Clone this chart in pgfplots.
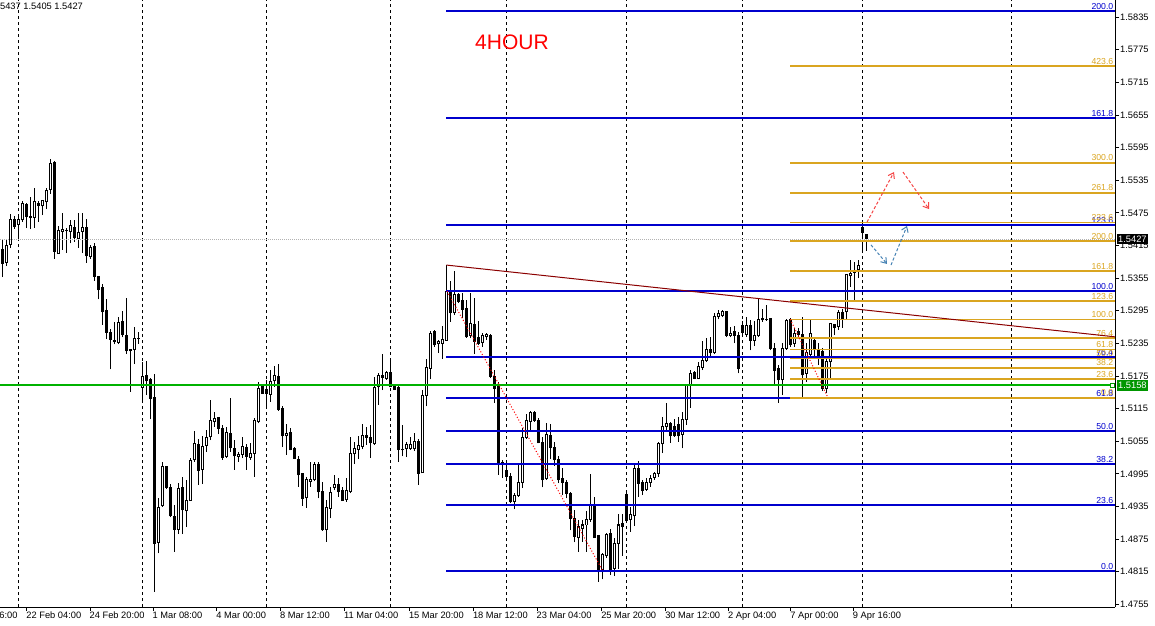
\documentclass[border=0pt]{standalone}
\usepackage{fontspec}
\setmainfont{Liberation Sans}
\usepackage{pgfplots}
\pgfplotsset{compat=1.18}
\usepackage{pgfplotstable}
\usetikzlibrary{arrows.meta}
\definecolor{fibblue}{RGB}{0,0,205}
\definecolor{fibgold}{RGB}{218,165,32}
\definecolor{trendred}{RGB}{139,0,0}
\definecolor{mtgreen}{RGB}{0,150,0}
\definecolor{arrowblue}{RGB}{70,130,180}
\definecolor{arrowred}{RGB}{245,70,70}

\pgfplotstableread{
o h l c
1.5408 1.5425 1.5357 1.5382
1.5384 1.5425 1.5377 1.5415
1.5417 1.5473 1.5410 1.5462
1.5463 1.5470 1.5446 1.5450
1.5454 1.5467 1.5426 1.5463
1.5462 1.5496 1.5459 1.5493
1.5491 1.5494 1.5447 1.5468
1.5469 1.5504 1.5445 1.5466
1.5466 1.5521 1.5448 1.5495
1.5493 1.5497 1.5459 1.5489
1.5488 1.5499 1.5471 1.5497
1.5495 1.5521 1.5482 1.5517
1.5518 1.5574 1.5510 1.5565
1.5567 1.5571 1.5391 1.5404
1.5400 1.5451 1.5400 1.5442
1.5441 1.5474 1.5407 1.5444
1.5443 1.5447 1.5402 1.5443
1.5441 1.5462 1.5419 1.5451
1.5448 1.5462 1.5422 1.5429
1.5427 1.5474 1.5411 1.5439
1.5441 1.5474 1.5401 1.5448
1.5448 1.5464 1.5383 1.5396
1.5394 1.5416 1.5391 1.5412
1.5414 1.5419 1.5350 1.5358
1.5358 1.5359 1.5316 1.5334
1.5337 1.5344 1.5269 1.5293
1.5296 1.5317 1.5243 1.5255
1.5255 1.5261 1.5187 1.5243
1.5241 1.5275 1.5233 1.5238
1.5237 1.5283 1.5233 1.5274
1.5276 1.5294 1.5246 1.5252
1.5250 1.5319 1.5215 1.5221
1.5223 1.5224 1.5146 1.5221
1.5224 1.5266 1.5197 1.5244
1.5244 1.5255 1.5234 1.5244
1.5154 1.5201 1.5128 1.5174
1.5176 1.5203 1.5140 1.5166
1.5168 1.5171 1.5095 1.5134
1.5136 1.5179 1.4778 1.4867
1.4869 1.4950 1.4849 1.4934
1.4936 1.5016 1.4935 1.5008
1.5008 1.5010 1.4968 1.4970
1.4970 1.4976 1.4915 1.4918
1.4916 1.4938 1.4852 1.4893
1.4893 1.4978 1.4884 1.4968
1.4970 1.4989 1.4884 1.4929
1.4927 1.4984 1.4897 1.4946
1.4946 1.5024 1.4946 1.5019
1.5021 1.5074 1.5017 1.5050
1.5049 1.5059 1.4975 1.5002
1.5003 1.5065 1.4976 1.5046
1.5048 1.5076 1.5035 1.5062
1.5063 1.5131 1.5057 1.5094
1.5091 1.5108 1.5082 1.5097
1.5099 1.5099 1.5068 1.5079
1.5079 1.5085 1.5021 1.5025
1.5027 1.5082 1.5024 1.5072
1.5070 1.5134 1.5036 1.5043
1.5042 1.5057 1.5003 1.5028
1.5027 1.5036 1.5017 1.5031
1.5031 1.5063 1.5024 1.5045
1.5044 1.5050 1.5003 1.5027
1.5025 1.5051 1.5021 1.5033
1.5033 1.5097 1.4990 1.5094
1.5091 1.5164 1.5088 1.5152
1.5155 1.5158 1.5142 1.5143
1.5150 1.5168 1.5117 1.5143
1.5141 1.5186 1.5128 1.5164
1.5166 1.5193 1.5155 1.5175
1.5174 1.5197 1.5111 1.5114
1.5116 1.5119 1.5044 1.5065
1.5065 1.5087 1.5030 1.5070
1.5072 1.5080 1.5038 1.5039
1.5042 1.5044 1.5022 1.5024
1.5022 1.5027 1.4971 1.4993
1.4995 1.4997 1.4936 1.4950
1.4951 1.4990 1.4933 1.4984
1.4981 1.5016 1.4971 1.4985
1.4984 1.5016 1.4981 1.5013
1.5012 1.5016 1.4950 1.4962
1.4963 1.4980 1.4890 1.4892
1.4892 1.4947 1.4870 1.4934
1.4932 1.4971 1.4913 1.4961
1.4970 1.4993 1.4965 1.4975
1.4975 1.4988 1.4953 1.4962
1.4964 1.4971 1.4945 1.4946
1.4947 1.4987 1.4944 1.4965
1.4962 1.5062 1.4959 1.5032
1.5032 1.5054 1.5014 1.5042
1.5040 1.5065 1.5022 1.5048
1.5046 1.5087 1.5040 1.5065
1.5065 1.5082 1.5049 1.5062
1.5062 1.5085 1.5024 1.5052
1.5050 1.5174 1.5048 1.5154
1.5155 1.5181 1.5122 1.5175
1.5175 1.5215 1.5149 1.5173
1.5171 1.5185 1.5168 1.5181
1.5181 1.5204 1.5155 1.5155
1.5157 1.5158 1.5149 1.5150
1.5154 1.5157 1.5017 1.5040
1.5039 1.5085 1.5027 1.5039
1.5041 1.5054 1.5026 1.5049
1.5042 1.5063 1.5039 1.5049
1.5041 1.5071 1.5037 1.5054
1.5055 1.5060 1.4975 1.4996
1.4997 1.5150 1.4997 1.5140
1.5139 1.5206 1.5119 1.5191
1.5189 1.5258 1.5169 1.5254
1.5257 1.5260 1.5229 1.5232
1.5234 1.5241 1.5217 1.5238
1.5235 1.5267 1.5207 1.5243
1.5241 1.5379 1.5240 1.5331
1.5330 1.5350 1.5275 1.5291
1.5291 1.5368 1.5287 1.5324
1.5324 1.5328 1.5309 1.5312
1.5313 1.5327 1.5281 1.5298
1.5300 1.5315 1.5245 1.5247
1.5249 1.5327 1.5244 1.5271
1.5269 1.5319 1.5216 1.5238
1.5245 1.5277 1.5232 1.5234
1.5237 1.5254 1.5229 1.5249
1.5247 1.5254 1.5241 1.5252
1.5250 1.5252 1.5171 1.5174
1.5174 1.5186 1.5125 1.5152
1.5155 1.5164 1.4993 1.5014
1.5013 1.5021 1.4987 1.5016
1.5001 1.5011 1.4987 1.4991
1.4991 1.4996 1.4941 1.4944
1.4944 1.4959 1.4930 1.4956
1.4955 1.5011 1.4953 1.4980
1.4980 1.5079 1.4969 1.5062
1.5062 1.5106 1.5060 1.5094
1.5092 1.5111 1.5076 1.5107
1.5108 1.5111 1.5091 1.5093
1.5094 1.5097 1.5051 1.5052
1.5052 1.5063 1.4970 1.4984
1.4986 1.5088 1.4984 1.5068
1.5066 1.5087 1.5022 1.5044
1.5044 1.5054 1.5010 1.5021
1.5021 1.5027 1.4978 1.4984
1.4987 1.5005 1.4956 1.4980
1.4980 1.4984 1.4950 1.4959
1.4959 1.4962 1.4891 1.4913
1.4913 1.4929 1.4869 1.4880
1.4878 1.4910 1.4852 1.4898
1.4895 1.4910 1.4870 1.4901
1.4901 1.4926 1.4852 1.4912
1.4912 1.4995 1.4907 1.4938
1.4938 1.4952 1.4877 1.4878
1.4881 1.4883 1.4797 1.4815
1.4819 1.4850 1.4801 1.4846
1.4844 1.4886 1.4840 1.4883
1.4885 1.4893 1.4809 1.4819
1.4821 1.4877 1.4807 1.4867
1.4867 1.4922 1.4821 1.4901
1.4903 1.4922 1.4844 1.4898
1.4958 1.4961 1.4909 1.4910
1.4911 1.4934 1.4889 1.4920
1.4918 1.5011 1.4899 1.5005
1.5005 1.5019 1.4953 1.4978
1.4980 1.4984 1.4956 1.4964
1.4967 1.4987 1.4964 1.4980
1.4979 1.4993 1.4971 1.4986
1.4989 1.4999 1.4984 1.4996
1.4996 1.5054 1.4990 1.5051
1.5050 1.5100 1.5033 1.5083
1.5082 1.5125 1.5076 1.5088
1.5087 1.5091 1.5052 1.5065
1.5082 1.5095 1.5063 1.5065
1.5085 1.5099 1.5054 1.5065
1.5068 1.5109 1.5042 1.5095
1.5095 1.5160 1.5085 1.5158
1.5157 1.5186 1.5117 1.5180
1.5182 1.5185 1.5169 1.5171
1.5171 1.5201 1.5169 1.5193
1.5191 1.5240 1.5186 1.5203
1.5203 1.5245 1.5201 1.5223
1.5223 1.5247 1.5209 1.5218
1.5218 1.5290 1.5215 1.5285
1.5284 1.5296 1.5279 1.5289
1.5286 1.5296 1.5283 1.5293
1.5293 1.5293 1.5246 1.5249
1.5249 1.5266 1.5246 1.5254
1.5256 1.5267 1.5235 1.5249
1.5249 1.5255 1.5180 1.5188
1.5267 1.5277 1.5252 1.5255
1.5252 1.5283 1.5247 1.5267
1.5267 1.5278 1.5222 1.5241
1.5241 1.5277 1.5230 1.5250
1.5249 1.5316 1.5247 1.5279
1.5281 1.5299 1.5275 1.5278
1.5279 1.5306 1.5277 1.5279
1.5281 1.5282 1.5222 1.5225
1.5225 1.5235 1.5158 1.5186
1.5188 1.5195 1.5126 1.5168
1.5168 1.5236 1.5140 1.5226
1.5226 1.5279 1.5223 1.5277
1.5279 1.5281 1.5229 1.5232
1.5235 1.5263 1.5229 1.5254
1.5256 1.5263 1.5244 1.5252
1.5252 1.5284 1.5136 1.5177
1.5180 1.5235 1.5164 1.5218
1.5215 1.5278 1.5210 1.5254
1.5241 1.5244 1.5210 1.5223
1.5221 1.5235 1.5195 1.5212
1.5220 1.5226 1.5148 1.5152
1.5152 1.5206 1.5143 1.5201
1.5201 1.5272 1.5169 1.5271
1.5269 1.5269 1.5250 1.5264
1.5266 1.5296 1.5260 1.5292
1.5292 1.5299 1.5264 1.5281
1.5293 1.5362 1.5278 1.5361
1.5359 1.5388 1.5339 1.5364
1.5366 1.5385 1.5313 1.5366
1.5370 1.5388 1.5355 1.5379
1.5448 1.5456 1.5407 1.5439
1.5436 1.5437 1.5405 1.5427
}\candles

\newcommand{\ticksize}{\fontsize{9.3}{11}\selectfont}
\newcommand{\fibsize}{\fontsize{8.7}{9}\selectfont}
% colour, x start, level, label, line width
\newcommand{\fib}[5]{%
  \addplot[#1, line width=#5, forget plot] coordinates {(#2,#3) (1115,#3)};
  \node[anchor=south east, text=#1, inner sep=0pt, yshift=1.6pt, font=\fibsize] at (axis cs:1113.5,#3) {#4};
}

\begin{document}
\begin{tikzpicture}[x=1pt,y=1pt]
\path[use as bounding box] (0,0) rectangle (1155,625);
\begin{axis}[
  at={(0pt,18pt)}, anchor=south west,
  scale only axis, width=1115pt, height=607pt,
  xmin=0, xmax=1115, ymin=1.47502, ymax=1.58664,
  clip=false,
  axis x line*=bottom, axis y line*=right,
  axis line style={black, line width=1pt},
  tick align=outside, major tick length=4pt,
  tick style={black, line width=0.8pt},
  xtick={26.7,90,153,216.7,280.4,344.4,409.3,473.3,537,601.6,665.6,728.5,790.7,853.2},
  xticklabels={22 Feb 04:00,24 Feb 20:00,1 Mar 08:00,4 Mar 00:00,8 Mar 12:00,11 Mar 04:00,15 Mar 20:00,18 Mar 12:00,23 Mar 04:00,25 Mar 20:00,30 Mar 12:00,2 Apr 04:00,7 Apr 00:00,9 Apr 16:00},
  ytick={1.4755,1.4815,1.4875,1.4935,1.4995,1.5055,1.5115,1.5175,1.5235,1.5295,1.5355,1.5415,1.5475,1.5535,1.5595,1.5655,1.5715,1.5775,1.5835},
  yticklabels={1.4755,1.4815,1.4875,1.4935,1.4995,1.5055,1.5115,1.5175,1.5235,1.5295,1.5355,1.5415,1.5475,1.5535,1.5595,1.5655,1.5715,1.5775,1.5835},
  tick label style={font=\ticksize, inner sep=1pt},
  xticklabel style={anchor=north west, xshift=-1.5pt},
  yticklabel style={anchor=west},
  after end axis/.code={
    \node[fill=black, text=white, anchor=west, inner xsep=1.5pt, inner ysep=2pt, font=\ticksize] at (axis cs:1116.5,1.5427) {1.5427};
    \node[fill=mtgreen, text=white, anchor=west, inner xsep=1.5pt, inner ysep=2pt, font=\ticksize] at (axis cs:1116.5,1.5158) {1.5158};
    \node[anchor=north west, inner sep=1pt, font=\ticksize, yshift=-4pt] at (axis cs:-38.5,1.47502) {17 Feb 16:00};
  },
]
% vertical dashed separators
\pgfplotsinvokeforeach{18.3,142.5,266.5,390.5,506.5,626.5,742.5,862.3,1011}{
  \addplot[black, line width=0.8pt, dash pattern=on 3pt off 3pt, forget plot] coordinates {(#1,1.47502) (#1,1.58664)};
}
% wicks
\addplot[draw=none, mark=none, forget plot,
  error bars/.cd, y dir=plus, y explicit, error mark=none,
  error bar style={draw=black, line width=1pt, solid}]
  table[x expr=2.3+4*\coordindex, y=l, y error plus expr=\thisrow{h}-\thisrow{l}] {\candles};
% bodies (outline / black fill)
\addplot[draw=none, mark=none, forget plot,
  error bars/.cd, y dir=plus, y explicit, error mark=none,
  error bar style={draw=black, line width=3pt, solid}]
  table[x expr=2.3+4*\coordindex, y expr={min(\thisrow{o},\thisrow{c})-0.000092},
        y error plus expr={abs(\thisrow{c}-\thisrow{o})+0.000184}] {\candles};
% bodies (white inside of rising candles)
\addplot[draw=none, mark=none, forget plot,
  error bars/.cd, y dir=plus, y explicit, error mark=none,
  error bar style={draw=white, line width=1pt, solid}]
  table[x expr=2.3+4*\coordindex, y expr={min(\thisrow{o},\thisrow{c})+0.000092},
        y error plus expr={(\thisrow{c}-\thisrow{o}>0.00019) ? (\thisrow{c}-\thisrow{o}-0.000184) : 0}] {\candles};

% price lines
\addplot[color=gray!60, line width=0.8pt, dash pattern=on 1pt off 1pt, forget plot] coordinates {(0,1.5427) (1115,1.5427)};
\addplot[color=green!70!black, line width=2pt, solid, mark=none, forget plot] coordinates {(0,1.5158) (1111,1.5158)};
\addplot[color=mtgreen, only marks, mark=square, mark size=2pt, mark options={draw=mtgreen, line width=0.8pt}, forget plot] coordinates {(1112.5,1.5158)};

% blue Fibonacci
\fib{fibblue}{446}{1.4816}{0.0}{2.2pt}
\fib{fibblue}{446}{1.49375}{23.6}{2.2pt}
\fib{fibblue}{446}{1.50127}{38.2}{2.2pt}
\fib{fibblue}{446}{1.50735}{50.0}{2.2pt}
\fib{fibblue}{446}{1.51343}{61.8}{2.2pt}
\fib{fibblue}{446}{1.52095}{76.4}{2.2pt}
\fib{fibblue}{446}{1.5331}{100.0}{2.2pt}
\fib{fibblue}{446}{1.54525}{123.6}{2.2pt}
\fib{fibblue}{446}{1.56493}{161.8}{2.2pt}
\fib{fibblue}{446}{1.5846}{200.0}{2.2pt}
% gold Fibonacci
\fib{fibgold}{790}{1.5135}{0.0}{1.6pt}
\fib{fibgold}{790}{1.5169}{23.6}{1.6pt}
\fib{fibgold}{790}{1.5190}{38.2}{1.6pt}
\fib{fibgold}{790}{1.5207}{50.0}{1.6pt}
\fib{fibgold}{790}{1.5224}{61.8}{1.6pt}
\fib{fibgold}{790}{1.5245}{76.4}{1.6pt}
\fib{fibgold}{790}{1.5279}{100.0}{1.6pt}
\fib{fibgold}{790}{1.5313}{123.6}{1.6pt}
\fib{fibgold}{790}{1.5368}{161.8}{1.6pt}
\fib{fibgold}{790}{1.5423}{200.0}{1.6pt}
\fib{fibgold}{790}{1.5457}{223.6}{1.6pt}
\fib{fibgold}{790}{1.5512}{261.8}{1.6pt}
\fib{fibgold}{790}{1.5567}{300.0}{1.6pt}
\fib{fibgold}{790}{1.5745}{423.6}{1.6pt}

% trend line and fib diagonals
\addplot[color=trendred, line width=1pt, forget plot] coordinates {(446.3,1.5379) (1115,1.5247)};
\addplot[color=red, line width=1pt, dash pattern=on 1pt off 2pt, forget plot] coordinates {(447,1.5331) (603,1.4816)};
\addplot[color=red, line width=1pt, dash pattern=on 1pt off 2pt, forget plot] coordinates {(790.3,1.5279) (828,1.5135)};

% projected path arrows
\addplot[color=arrowred, line width=1pt, dash pattern=on 3pt off 2pt, -{Straight Barb[length=5pt,width=7pt]}, forget plot] coordinates {(867,1.5458) (894,1.5550)};
\addplot[color=arrowred, line width=1pt, dash pattern=on 3pt off 2pt, -{Straight Barb[length=5pt,width=7pt]}, forget plot] coordinates {(903,1.5550) (929,1.5482)};
\addplot[color=arrowblue, line width=1pt, dash pattern=on 3pt off 2pt, -{Straight Barb[length=5pt,width=7pt]}, forget plot] coordinates {(871,1.5416) (887,1.5381)};
\addplot[color=arrowblue, line width=1pt, dash pattern=on 3pt off 2pt, -{Straight Barb[length=5pt,width=7pt]}, forget plot] coordinates {(891,1.5379) (907,1.5451)};

% texts
\node[anchor=base west, text=red, inner sep=0pt, font=\fontsize{21}{24}\selectfont] at (axis cs:475,1.5776) {4HOUR};
\node[anchor=base west, inner sep=0pt, font=\ticksize] at (axis cs:-7.8,1.5849) {1.5437 1.5405 1.5427};
\end{axis}
\end{tikzpicture}
\end{document}
